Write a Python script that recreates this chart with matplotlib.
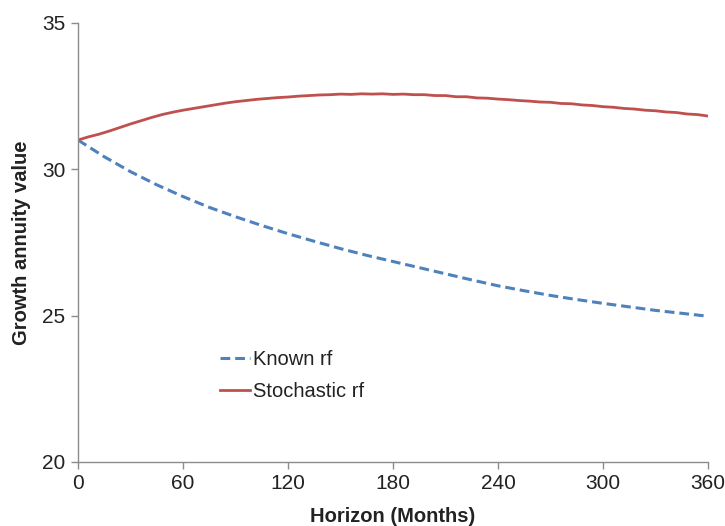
import matplotlib
matplotlib.use("Agg")
import matplotlib.pyplot as plt

# known risk-free rate, read every 15 months
months_known = [0, 15, 30, 45, 60, 75, 90, 105, 120, 135, 150, 165, 180,
                195, 210, 225, 240, 255, 270, 285, 300, 315, 330, 345, 360]
known_rf = [31.00, 30.43, 29.92, 29.47, 29.07, 28.70, 28.38, 28.08, 27.80,
            27.54, 27.29, 27.06, 26.85, 26.64, 26.43, 26.22, 26.02, 25.85,
            25.69, 25.55, 25.42, 25.30, 25.18, 25.08, 24.98]

# stochastic risk-free rate, read every 6 months
months_stoch = list(range(0, 361, 6))
stochastic_rf = [31.00, 31.11, 31.20, 31.31, 31.43, 31.55, 31.66, 31.77, 31.87, 31.95,
                 32.02, 32.08, 32.14, 32.20, 32.26, 32.31, 32.35, 32.39, 32.42, 32.45,
                 32.47, 32.50, 32.52, 32.54, 32.55, 32.57, 32.56, 32.58, 32.57, 32.58,
                 32.56, 32.57, 32.55, 32.55, 32.52, 32.52, 32.48, 32.48, 32.44, 32.43,
                 32.40, 32.38, 32.35, 32.33, 32.30, 32.29, 32.25, 32.24, 32.20, 32.18,
                 32.14, 32.12, 32.08, 32.06, 32.02, 32.00, 31.96, 31.94, 31.89, 31.87,
                 31.82]

x_ticks = [0, 60, 120, 180, 240, 300, 360]
y_ticks = [20, 25, 30, 35]

plt.rcParams["font.family"] = ["Liberation Sans", "DejaVu Sans"]

fig = plt.figure(figsize=(7.25, 5.26), dpi=100)
ax = fig.add_axes([0.1076, 0.1217, 0.8690, 0.8346])

ax.plot(months_known, known_rf, color="#4F81BD", linewidth=2.2,
        dashes=(3.2, 1.6), label="Known rf")
ax.plot(months_stoch, stochastic_rf, color="#C0504D", linewidth=2.0,
        label="Stochastic rf")

ax.set_xlim(0, 360)
ax.set_ylim(20, 35)
ax.set_xticks(x_ticks)
ax.set_yticks(y_ticks)

for side in ["top", "right"]:
    ax.spines[side].set_visible(False)
for side in ["left", "bottom"]:
    ax.spines[side].set_color("#8c8c8c")
    ax.spines[side].set_linewidth(1.0)

ax.tick_params(axis="both", colors="#8c8c8c", labelcolor="#222222",
               labelsize=15, length=5, width=1.0, direction="out")
ax.tick_params(axis="y", pad=4)
ax.tick_params(axis="x", pad=4)

ax.set_xlabel("Horizon (Months)", fontsize=14.5, fontweight="bold",
              color="#222222", labelpad=10)
ax.set_ylabel("Growth annuity value", fontsize=14.5, fontweight="bold",
              color="#222222", labelpad=8)

ax.legend(loc="upper left", bbox_to_anchor=(0.2254, 0.2546), frameon=False,
          fontsize=14.5, handlelength=1.5, handletextpad=0.15,
          borderpad=0, borderaxespad=0, labelspacing=0.65,
          labelcolor="#222222")

fig.savefig("out.png", dpi=100)
